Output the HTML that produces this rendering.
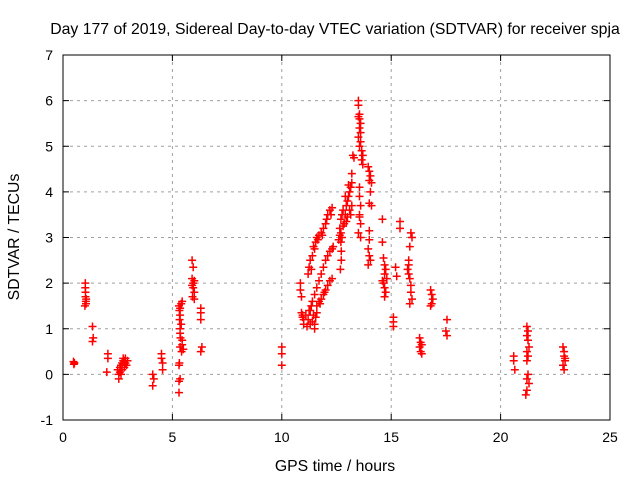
<!DOCTYPE html>
<html><head><meta charset="utf-8"><style>
body{margin:0;background:#fff}
svg text{font-family:"Liberation Sans",sans-serif;font-size:14px;fill:#000}
svg text.big{font-size:15.8px}
</style></head><body>
<svg id="chart" width="640" height="480" xmlns="http://www.w3.org/2000/svg">
<rect width="640" height="480" fill="#fff"/>
<g id="grid"></g>
<g id="points"></g>
<rect x="63" y="55" width="547" height="365" fill="none" stroke="#000" stroke-width="1"/>
<g id="ticks"></g>
<text class="big" x="335" y="34" text-anchor="middle">Day 177 of 2019, Sidereal Day-to-day VTEC variation (SDTVAR) for receiver spja</text>
<text class="big" x="335" y="471" text-anchor="middle">GPS time / hours</text>
<text class="big" transform="translate(19,237) rotate(-90)" text-anchor="middle">SDTVAR / TECUs</text>
</svg>
<script>
const xTicks=[0,5,10,15,20,25];
const yTicks=[-1,0,1,2,3,4,5,6,7];
const times=[0.48,0.5,0.52,1.02,1.02,1.03,1.03,1.04,1.05,1.0,1.06,1.35,1.38,1.35,2.05,2.05,2.0,
2.5,2.55,2.55,2.6,2.65,2.7,2.75,2.8,2.85,2.9,2.7,2.8,2.75,2.6,2.95,2.65,2.85,
4.1,4.1,4.15,4.5,4.5,4.55,4.55,
5.3,5.32,5.35,5.33,5.35,5.35,5.37,5.35,5.32,5.3,5.35,5.3,5.3,5.4,5.45,5.45,5.45,5.5,5.42,5.4,5.35,
5.9,5.95,5.9,5.95,5.95,6.0,5.92,6.0,5.9,6.0,6.3,6.3,6.3,6.35,6.3,10,10,10,
10.85,10.85,10.9,10.9,10.95,11.0,11.0,10.95,
11.2,11.25,11.3,11.4,11.45,11.55,11.6,11.7,11.8,11.9,12.0,12.1,12.2,12.3,11.35,11.5,11.65,11.85,12.05,12.25,
11.1,11.2,11.3,11.4,11.5,11.55,11.6,11.25,11.35,11.45,11.15,11.5,
11.6,11.7,11.8,11.9,12.0,12.1,12.2,12.3,11.75,11.95,
11.3,11.4,11.5,11.6,11.7,11.8,11.9,12.0,12.1,12.2,12.3,12.35,
12.65,12.7,12.75,12.8,12.85,12.9,12.95,13.0,13.05,13.1,13.15,13.2,12.8,12.9,13.0,13.1,13.2,13.05,12.95,13.15,13.25,13.3,13.2,
12.7,12.7,12.72,12.72,12.68,12.75,12.6,12.65,
13.5,13.5,13.55,13.55,13.6,13.55,13.5,13.6,13.55,13.65,13.7,13.65,13.7,13.6,13.5,
13.95,14.0,14.05,14.0,14.1,14.05,14.0,14.1,
13.55,13.55,13.6,13.55,13.6,13.5,13.6,13.55,
14.0,14.0,13.95,14.0,14.05,13.95,
14.6,14.6,14.65,14.7,14.75,14.7,14.65,14.7,14.75,14.7,14.8,14.6,
15.1,15.1,15.1,15.2,15.25,15.4,15.4,
15.9,15.95,15.85,15.8,15.75,15.8,15.85,15.9,15.9,15.95,15.85,15.8,
16.3,16.35,16.4,16.3,16.35,16.4,16.8,16.85,16.9,16.85,16.8,17.55,17.5,17.55,20.6,20.6,20.65,
21.2,21.25,21.2,21.25,21.3,21.2,21.25,21.2,21.25,21.2,21.3,21.2,21.15,
22.85,22.9,22.9,22.95,22.85,22.9,22.95];
const sdtvar=[0.28,0.22,0.25,2.0,1.9,1.8,1.7,1.6,1.55,1.5,1.65,1.05,0.8,0.72,0.45,0.35,0.05,
0.1,0.0,-0.1,0.15,0.2,0.25,0.3,0.3,0.25,0.2,0.1,0.15,0.35,0.05,0.3,0.0,0.35,
0.0,-0.25,-0.1,0.45,0.35,0.25,0.1,
1.5,1.4,1.3,1.2,1.0,0.9,0.8,0.6,0.25,0.2,-0.1,-0.15,-0.4,1.55,1.6,0.75,0.65,0.55,0.5,1.1,1.45,
2.5,2.35,2.1,2.0,1.9,1.8,1.7,1.65,1.95,2.05,1.45,1.35,1.2,0.6,0.5,0.6,0.45,0.2,
2.0,1.85,1.7,1.35,1.25,1.2,1.1,1.3,
2.2,2.35,2.5,2.6,2.8,2.9,3.0,3.05,3.1,3.2,3.3,3.5,3.6,3.65,2.3,2.75,2.95,3.05,3.4,3.5,
1.3,1.2,1.1,1.15,1.1,1.25,1.35,1.4,1.5,1.3,1.05,1.0,
1.5,1.6,1.65,1.75,1.85,1.95,2.05,2.1,1.55,1.8,
1.4,1.6,1.75,1.9,2.05,2.2,2.35,2.5,2.6,2.7,2.75,2.8,
3.2,3.4,3.5,3.6,3.3,3.5,3.7,3.8,3.9,4.0,4.1,4.2,3.25,3.9,3.45,3.6,3.7,4.15,3.35,3.5,4.8,4.75,4.4,
3.1,2.9,2.7,2.5,2.3,3.0,2.95,3.05,
6.0,5.9,5.7,5.6,5.5,5.4,5.2,5.1,5.0,4.9,4.8,4.7,4.6,5.3,5.65,
4.55,4.45,4.35,4.25,4.2,4.0,3.75,3.7,
4.1,3.9,3.7,3.5,3.3,3.1,3.0,3.45,
3.15,2.95,2.75,2.6,2.5,2.4,
3.4,2.9,2.55,2.4,2.3,2.2,2.0,1.9,1.8,1.7,2.1,2.05,
1.25,1.15,1.05,2.35,2.15,3.35,3.2,
3.1,3.0,2.8,2.5,2.3,2.2,2.1,1.95,1.8,1.65,1.55,2.4,
0.8,0.7,0.65,0.6,0.5,0.45,1.85,1.75,1.65,1.55,1.5,1.2,0.95,0.85,0.4,0.3,0.1,
1.05,0.95,0.85,0.75,0.6,0.5,0.4,0.3,0.0,-0.1,-0.2,-0.35,-0.45,
0.6,0.5,0.4,0.3,0.2,0.1,0.35];
const NS='http://www.w3.org/2000/svg';
const L=63,R=610,T=55,B=420;
function xs(t){return L+(t-0)/(25-0)*(R-L);}
function ys(v){return B-(v-(-1))/(7-(-1))*(B-T);}
const grid=document.getElementById('grid'),ticks=document.getElementById('ticks'),pts=document.getElementById('points');
function mk(tag,attrs,parent){const e=document.createElementNS(NS,tag);for(const k in attrs)e.setAttribute(k,attrs[k]);parent.appendChild(e);return e;}
xTicks.forEach(t=>{const x=xs(t);
 if(t>0&&t<25){const g=mk('line',{x1:x,x2:x,y1:T,y2:B,stroke:'#a0a0a0','stroke-dasharray':'3,4'},grid);
 
 }
 mk('line',{x1:x,x2:x,y1:B,y2:B-6,stroke:'#000'},ticks);
 mk('line',{x1:x,x2:x,y1:T,y2:T+6,stroke:'#000'},ticks);
 const l=mk('text',{x:x,y:B+22,'text-anchor':'middle'},ticks);l.textContent=t;
 
 
});
yTicks.forEach(v=>{const y=ys(v);
 if(v>-1&&v<7){const g=mk('line',{x1:L,x2:R,y1:y,y2:y,stroke:'#a0a0a0','stroke-dasharray':'3,4'},grid);
 
 }
 mk('line',{x1:L,x2:L+6,y1:y,y2:y,stroke:'#000'},ticks);
 mk('line',{x1:R,x2:R-6,y1:y,y2:y,stroke:'#000'},ticks);
 const l=mk('text',{x:L-10,y:y+5,'text-anchor':'end'},ticks);l.textContent=v;
 
 
});
let d='';
times.forEach((t,i)=>{const x=xs(t),y=ys(sdtvar[i]);d+=`M${(x-4).toFixed(1)} ${y.toFixed(1)}h8M${x.toFixed(1)} ${(y-4).toFixed(1)}v8`;});
const p=mk('path',{d:d,stroke:'#ff0000','stroke-width':1.5,fill:'none'},pts);


</script>
</body></html>
